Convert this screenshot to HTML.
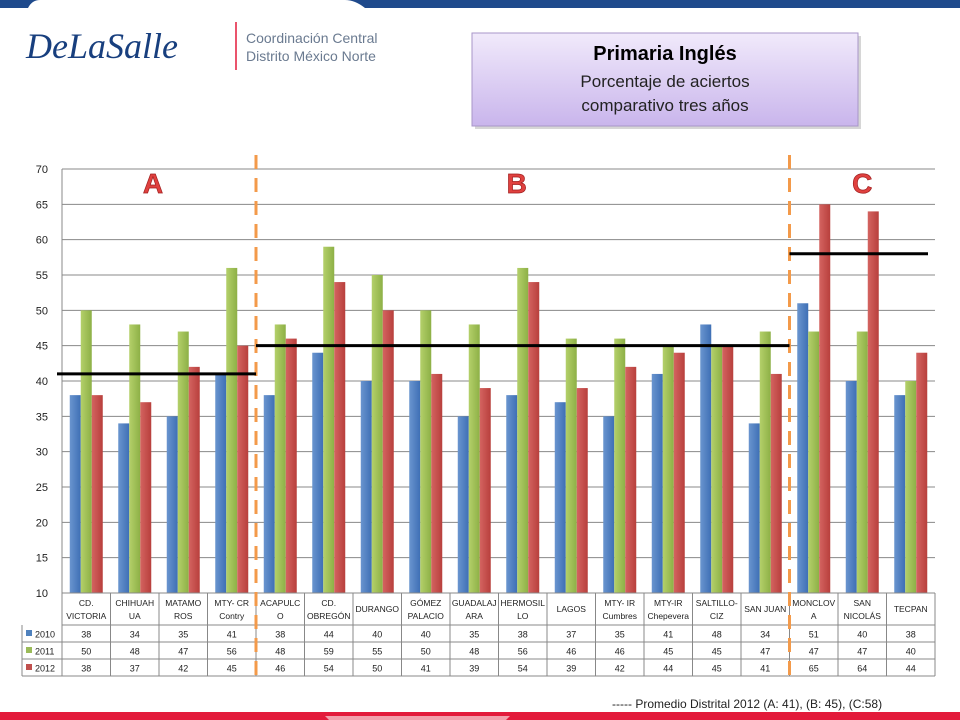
<!DOCTYPE html>
<html><head><meta charset="utf-8"><style>
body{margin:0;width:960px;height:720px;overflow:hidden;background:#fff;font-family:"Liberation Sans",sans-serif;position:relative}
svg{position:absolute;left:0;top:0}
</style></head><body>
<svg width="960" height="720" id="chart">
<defs>
<linearGradient id="tg" x1="0" y1="0" x2="0" y2="1"><stop offset="0" stop-color="#f1eafb"/><stop offset="1" stop-color="#c9b5ec"/></linearGradient>
<linearGradient id="gb" x1="0" x2="1"><stop offset="0" stop-color="#6a95cf"/><stop offset="1" stop-color="#3e6fb5"/></linearGradient>
<linearGradient id="gg" x1="0" x2="1"><stop offset="0" stop-color="#b4d06a"/><stop offset="1" stop-color="#8db046"/></linearGradient>
<linearGradient id="gr" x1="0" x2="1"><stop offset="0" stop-color="#d46461"/><stop offset="1" stop-color="#b83f3c"/></linearGradient>
</defs>
<path d="M0 0H960V8H365Q355 0 345 0H40Q32 0 28 8H0Z" fill="#1f4a8c"/>
<rect x="0" y="712" width="960" height="8" fill="#e31b3b"/>
<path d="M325 716H510L506 720H329Z" fill="#f2a0ac"/>
<text x="26" y="58" font-family="Liberation Serif,serif" font-style="italic" font-size="36" fill="#183f7e">DeLaSalle</text>
<line x1="236" y1="22" x2="236" y2="70" stroke="#e31b3b" stroke-width="1.5"/>
<text x="246" y="43" font-size="14" fill="#6a7a90">Coordinación Central</text>
<text x="246" y="61" font-size="14" fill="#6a7a90">Distrito México Norte</text>
<rect x="475" y="36" width="386" height="93" fill="#999" opacity="0.4"/>
<rect x="472" y="33" width="386" height="93" fill="url(#tg)" stroke="#a896c8"/>
<text x="665" y="60" text-anchor="middle" font-size="20" font-weight="bold" fill="#000">Primaria Inglés</text>
<text x="665" y="87" text-anchor="middle" font-size="17" fill="#222">Porcentaje de aciertos</text>
<text x="665" y="111" text-anchor="middle" font-size="17" fill="#222">comparativo tres años</text>
<g id="plot"></g>
<text x="612" y="708" font-size="12" fill="#222">----- Promedio Distrital 2012  (A: 41), (B: 45), (C:58)</text>
</svg>
<script>
const categories=[["CD.","VICTORIA"],["CHIHUAH","UA"],["MATAMO","ROS"],["MTY- CR","Contry"],["ACAPULC","O"],["CD.","OBREGÓN"],["DURANGO"],["GÓMEZ","PALACIO"],["GUADALAJ","ARA"],["HERMOSIL","LO"],["LAGOS"],["MTY- IR","Cumbres"],["MTY-IR","Chepevera"],["SALTILLO-","CIZ"],["SAN JUAN"],["MONCLOV","A"],["SAN","NICOLÁS"],["TECPAN"]];
const series2010=[38,34,35,41,38,44,40,40,35,38,37,35,41,48,34,51,40,38];
const series2011=[50,48,47,56,48,59,55,50,48,56,46,46,45,45,47,47,47,40];
const series2012=[38,37,42,45,46,54,50,41,39,54,39,42,44,45,41,65,64,44];
const seriesNames=["2010","2011","2012"];
const yTicks=[10,15,20,25,30,35,40,45,50,55,60,65,70];
const groupAverages=[41,45,58];
const groupLabels=["A","B","C"];
const groupBounds=[[0,4],[4,15],[15,18]];

const NS="http://www.w3.org/2000/svg";
const g=document.getElementById('plot');
const X0=62,X1=935,Y0=593,Y1=169,YMIN=10,YMAX=70;
const cw=(X1-X0)/categories.length;
const y=v=>Y0-(v-YMIN)/(YMAX-YMIN)*(Y0-Y1);
const x=i=>X0+i*cw;
function mk(t,a,p){const e=document.createElementNS(NS,t);for(const k in a)e.setAttribute(k,a[k]);(p||g).appendChild(e);return e;}
yTicks.forEach(v=>{
 const l=mk('line',{x1:X0,x2:X1,y1:y(v),y2:y(v),stroke:'#888','stroke-width':1});
 
 
 const t=mk('text',{x:48,y:y(v)+4,'text-anchor':'end','font-size':11,fill:'#222'});t.textContent=v;
 
 
});
mk('line',{x1:X0,x2:X0,y1:Y1,y2:Y0,stroke:'#888'});
const all=[series2010,series2011,series2012],fills=['url(#gb)','url(#gg)','url(#gr)'],sw=['#4f81bd','#9bbb59','#c0504d'];
const bw=11,off=(cw-3*bw)/2;
categories.forEach((c,i)=>{all.forEach((s,k)=>{
 const r=mk('rect',{x:x(i)+off+k*bw,y:y(s[i]),width:bw,height:Y0-y(s[i]),fill:fills[k]});
 
 
});});
const TL=22,H0=593,H1=625,RH=17;
mk('line',{x1:X0,x2:X1,y1:H0,y2:H0,stroke:'#888'});
for(let r=0;r<=3;r++)mk('line',{x1:r?TL:X0,x2:X1,y1:H1+r*RH,y2:H1+r*RH,stroke:'#888'});
mk('line',{x1:TL,x2:TL,y1:H1,y2:H1+3*RH,stroke:'#888'});
for(let i=0;i<=categories.length;i++)mk('line',{x1:x(i),x2:x(i),y1:H0,y2:H1+3*RH,stroke:'#888'});
categories.forEach((c,i)=>{
 c.forEach((ln,j)=>{const t=mk('text',{x:x(i)+cw/2,y:c.length==1?612:606+j*13,'text-anchor':'middle','font-size':8.5,fill:'#222'});t.textContent=ln;
 
 });
 all.forEach((s,k)=>{const t=mk('text',{x:x(i)+cw/2,y:H1+k*RH+12.5,'text-anchor':'middle','font-size':9,fill:'#222'});t.textContent=s[i];
 
 });
});
seriesNames.forEach((n,k)=>{
 mk('rect',{x:26,y:H1+k*RH+5,width:6,height:6,fill:sw[k]});
 const t=mk('text',{x:35,y:H1+k*RH+12.5,'font-size':9,fill:'#222'});t.textContent=n;
 
 
});
[4,15].forEach(b=>{const l=mk('line',{x1:x(b),x2:x(b),y1:155,y2:H1+3*RH,stroke:'#f39a4a','stroke-width':3,'stroke-dasharray':'14,9'});
 
 });
groupBounds.forEach((b,j)=>{
 const l=mk('line',{x1:x(b[0])-(j==0?5:0),x2:x(b[1])-(j==2?7:0),y1:y(groupAverages[j]),y2:y(groupAverages[j]),stroke:'#000','stroke-width':3});
 
 
 const t=mk('text',{x:(x(b[0])+x(b[1]))/2+(j==1?-6:j==2?0:-6),y:193,'text-anchor':'middle','font-size':28,'font-weight':'bold',fill:'#e0413f',stroke:'#a02020','stroke-width':0.7});t.textContent=groupLabels[j];
 
 
});
</script>
</body></html>
